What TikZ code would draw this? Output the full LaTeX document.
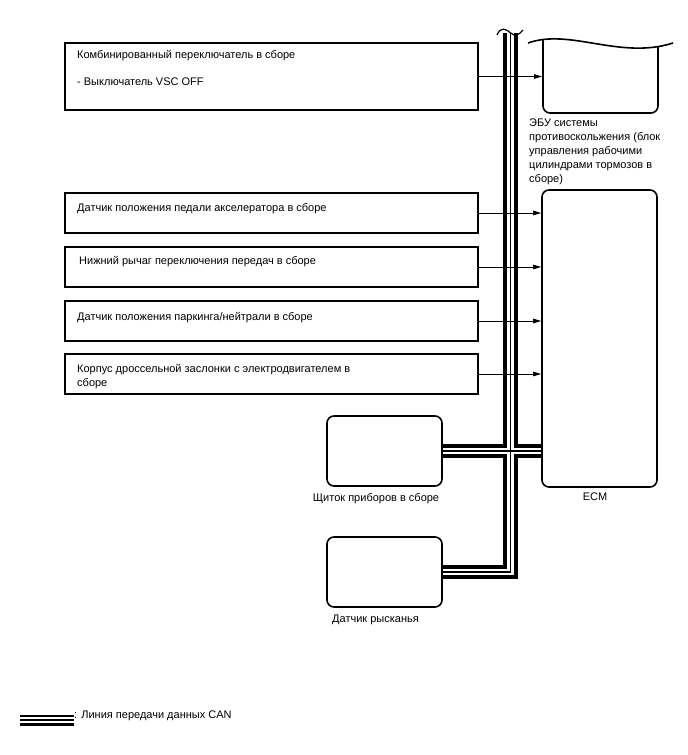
\documentclass[tikz,border=0pt]{standalone}
\usepackage{fontspec}
\setmainfont{Liberation Sans}
\usetikzlibrary{arrows.meta}

\begin{document}
\begin{tikzpicture}[x=1pt,y=-1pt,
    inbox/.style={draw,line width=1.6pt,minimum width=413pt,minimum height=40pt,inner sep=0pt},
    unit/.style={draw,line width=1.6pt,rounded corners=7pt,minimum width=115pt,inner sep=0pt},
    txt/.style={font=\fontsize{11}{14}\selectfont,inner sep=0pt},
    line/.style={txt,anchor=west,text height=8pt,text depth=2.3pt},
    sig/.style={line width=0.9pt,-{Triangle[length=8pt,width=4.5pt]}}]
    \useasboundingbox (0,0) rectangle (688,755);

    % boxes on the left
    \node[inbox,minimum height=67pt] (combo) at (271.5,76.5) {};
    \node[inbox] (accel) at (271.5,213) {};
    \node[inbox] (lever) at (271.5,267) {};
    \node[inbox] (pnp) at (271.5,321) {};
    \node[inbox] (thr) at (271.5,374) {};

    % units
    \node[unit,minimum height=297pt] (ecm) at (599.5,338.5) {};
    \node[unit,minimum height=70pt] (panel) at (384.5,451) {};
    \node[unit,minimum height=70pt] (yaw) at (384.5,572) {};

    % ABS ECU, cut at the top
    \draw[line width=1.6pt] (528,43) .. controls (570,28) and (620,60) .. (673,43);
    \draw[line width=1.6pt,rounded corners=7pt] (543,39) -- (543,113) -- (658,113) -- (658,46);
    \coordinate (abs) at (542,76.5);

    % CAN bus
    \coordinate (bustop) at (510.7,33);
    \coordinate (legA) at (20,720);
    \coordinate (legB) at (74,720);
    \foreach \w/\c in {14.5/black,6.5/white,1.4/black}{
      \draw[line width=\w pt,\c,line join=miter] (bustop) |- (yaw.east);
      \draw[line width=\w pt,\c] (panel.east) -- (panel.east -| ecm.west);
    }
    \foreach \w/\c in {11/black,5.5/white,2/black}
      \draw[line width=\w pt,\c] (legA) -- (legB);
    \draw[line width=1.2pt] (497,35) .. controls (501,26) and (506,29) .. (510.7,33)
      .. controls (515,37) and (519,35) .. (523,30);

    % signals
    \draw[sig] (combo.east) -- (abs);
    \foreach \n in {accel,lever,pnp,thr}
      \draw[sig] (\n.east) -- (\n.east -| ecm.west);

    % texts
    \node[line] (combo1) at (77,56) {Комбинированный переключатель в сборе};
    \node[line] (combo2) at (77,83) {- Выключатель VSC OFF};
    \node[line] (accel1) at (77,208.3) {Датчик положения педали акселератора в сборе};
    \node[line] (lever1) at (79,262) {Нижний рычаг переключения передач в сборе};
    \node[line] (pnp1) at (77,317.7) {Датчик положения паркинга/нейтрали в сборе};
    \node[txt,anchor=north west,align=left] (thr1) at (77,364.5) {Корпус дроссельной заслонки с электродвигателем в\\сборе};
    \node[txt,anchor=north west,align=left] (abs1) at (529,119) {ЭБУ системы\\противоскольжения (блок\\управления рабочими\\цилиндрами тормозов в\\сборе)};
    \node[txt] (ecm1) at (595,497) {ECM};
    \node[txt,anchor=north] (panel1) at ([shift={(-8.5,6.5)}]panel.south) {Щиток приборов в сборе};
    \node[txt,anchor=north] (yaw1) at ([shift={(-9,6.5)}]yaw.south) {Датчик рысканья};
    \node[txt,anchor=west] (leg1) at (74,715.5) {: Линия передачи данных CAN};
\end{tikzpicture}
\end{document}
